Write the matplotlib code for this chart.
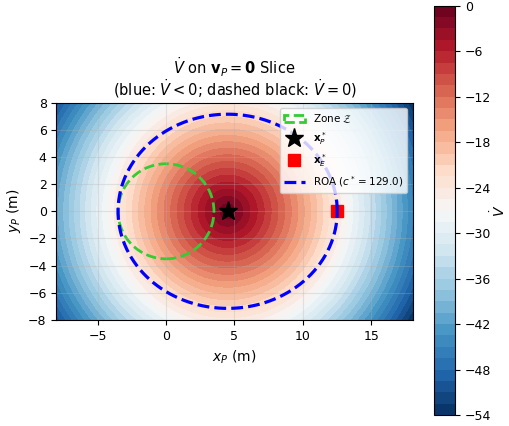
import numpy as np
import matplotlib
matplotlib.use("Agg")
import matplotlib.pyplot as plt
from matplotlib.patches import Circle

# --- data ---
x_range = [-8, 18]
y_range = [-8, 8]
xP_star = [4.5, 0.0]            # pursuer equilibrium (star)
xE_star = [12.5, 0.0]           # evader point (red square)
zone_center = [0.0, 0.0]
zone_radius = 3.5
c_star = 129.0
roa_semi_axes = [8.0, 7.15]     # ellipse semi-axes (x, y) of ROA level set
# Vdot radial profile coefficients: Vdot = -(a r + b r^2)
vdot_a = 2.685
vdot_b = 0.048
vdot_min = -54.0
n_bands = 36
cbar_ticks = [-54, -48, -42, -36, -30, -24, -18, -12, -6, 0]

# --- field ---
xs = np.linspace(x_range[0], x_range[1], 400)
ys = np.linspace(y_range[0], y_range[1], 300)
X, Y = np.meshgrid(xs, ys)
R = np.hypot(X - xP_star[0], Y - xP_star[1])
Vdot = -(vdot_a * R + vdot_b * R**2)
levels = np.linspace(vdot_min, 0.0, n_bands + 1)

fig = plt.figure(figsize=(5.1, 4.26), dpi=100)
ax = fig.add_axes([0.1106, 0.249, 0.6984, 0.510])
cax = fig.add_axes([0.8516, 0.0258, 0.0406, 0.9608])

cf = ax.contourf(X, Y, Vdot, levels=levels, cmap="RdBu_r", extend="neither")
ax.grid(True, alpha=0.3)

zone = Circle(zone_center, zone_radius, fill=False, edgecolor="limegreen",
              linestyle="--", linewidth=2, label=r"Zone $\mathcal{Z}$")
ax.add_patch(zone)

ax.plot(xP_star[0], xP_star[1], "k*", markersize=14, label=r"$\mathbf{x}_P^*$")
ax.plot(xE_star[0], xE_star[1], "rs", markersize=9, label=r"$\mathbf{x}_E^*$")

t = np.linspace(0, 2 * np.pi, 400)
ax.plot(xP_star[0] + roa_semi_axes[0] * np.cos(t),
        xP_star[1] + roa_semi_axes[1] * np.sin(t),
        color="blue", linestyle="--", linewidth=2.3,
        label=rf"ROA ($c^*={c_star:.1f}$)")

ax.set_xlim(x_range)
ax.set_ylim(y_range)
ax.set_xticks([-5, 0, 5, 10, 15])
ax.set_yticks([-8, -6, -4, -2, 0, 2, 4, 6, 8])
ax.tick_params(labelsize=9)
ax.set_xlabel(r"$x_P$ (m)", fontsize=10)
ax.set_ylabel(r"$y_P$ (m)", fontsize=10)
ax.set_title(r"(blue: $\dot{V} < 0$; dashed black: $\dot{V} = 0$)", fontsize=10.5, pad=5)
ax.annotate(r"$\dot{V}$ on $\mathbf{v}_P = \mathbf{0}$ Slice",
            xy=(0.5, 1.0), xycoords="axes fraction", xytext=(0, 25.5),
            textcoords="offset points", ha="center", va="center", fontsize=10.5)
ax.legend(loc="upper right", fontsize=7.5)

cb = fig.colorbar(cf, cax=cax, ticks=cbar_ticks)
cb.ax.tick_params(labelsize=9)
cb.set_label(r"$\dot{V}$", fontsize=10, labelpad=-1)

fig.savefig("out.png", dpi=100)
